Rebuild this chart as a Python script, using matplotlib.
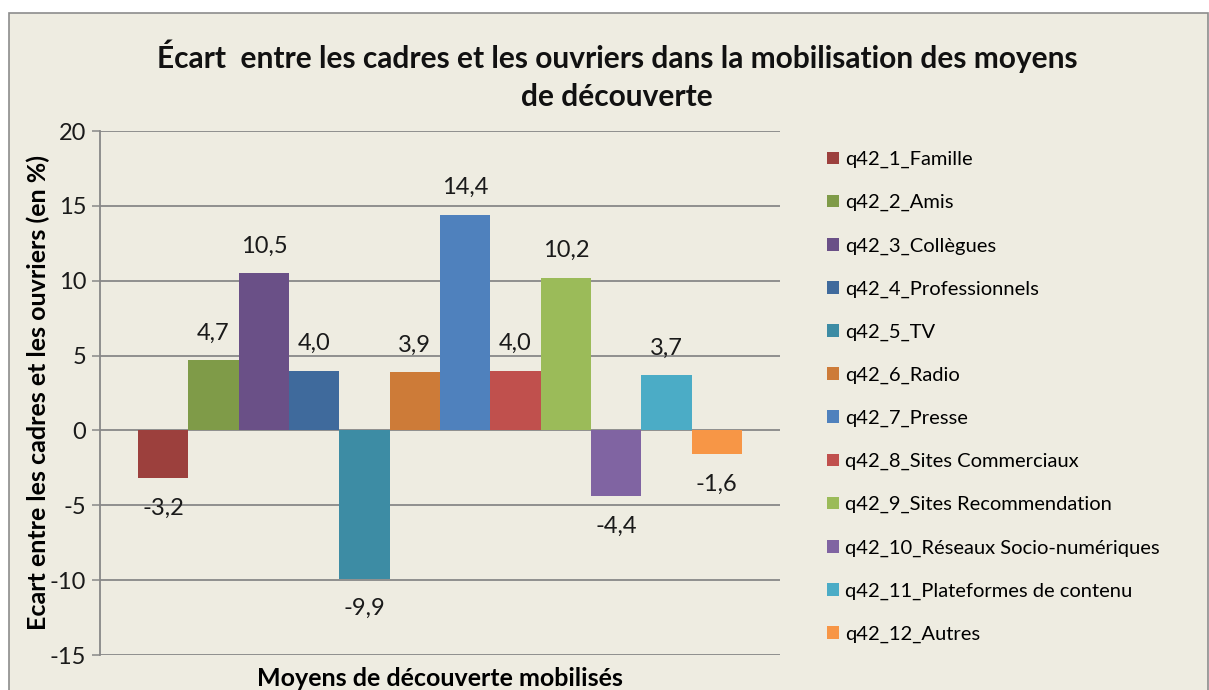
import matplotlib.pyplot as plt
from matplotlib.patches import Rectangle
import numpy as np

plt.rcParams['font.family'] = ['Lato', 'DejaVu Sans']
plt.rcParams['axes.unicode_minus'] = False

series = ["q42_1_Famille", "q42_2_Amis", "q42_3_Collègues", "q42_4_Professionnels",
          "q42_5_TV", "q42_6_Radio", "q42_7_Presse", "q42_8_Sites Commerciaux",
          "q42_9_Sites Recommendation", "q42_10_Réseaux Socio-numériques",
          "q42_11_Plateformes de contenu", "q42_12_Autres"]
values = [-3.2, 4.7, 10.5, 4.0, -9.9, 3.9, 14.4, 4.0, 10.2, -4.4, 3.7, -1.6]
colors = ["#9C403D", "#7F9B48", "#6A5087", "#3F6A9C", "#3D8CA4", "#CD7B38",
          "#4F81BD", "#C0504D", "#9BBB59", "#8064A2", "#4BACC6", "#F79646"]
yticks = [-15, -10, -5, 0, 5, 10, 15, 20]

bg = "#EEECE1"
grid_c = "#888888"

fig = plt.figure(figsize=(12.09, 6.9), dpi=100)
fig.patch.set_facecolor("white")
# chart area
fig.patches.append(Rectangle((9 / 1209, -0.02), 1199 / 1209, (690 - 13) / 690 + 0.02,
                             transform=fig.transFigure, facecolor=bg,
                             edgecolor="#8C8C8C", linewidth=1.2, zorder=-5))

ax = fig.add_axes([100 / 1209, 35 / 690, 680 / 1209, 524 / 690])
ax.set_facecolor("none")
ax.set_zorder(2)

w = 0.888 / len(values)
x = (np.arange(len(values)) - (len(values) - 1) / 2) * w
bars = ax.bar(x, values, width=w, color=colors, label=series, zorder=3)

for xi, v in zip(x, values):
    off = 19.5 if v >= 0 else -21.5
    ax.annotate(f"{v:.1f}".replace(".", ","), (xi, v), xytext=(0, off),
                textcoords="offset points", ha="center", va="center",
                fontsize=17, color="#1a1a1a", zorder=4)

ax.set_xlim(-0.5, 0.5)
ax.set_ylim(-15, 20)
ax.set_yticks(yticks)
ax.set_xticks([])
ax.yaxis.grid(True, color=grid_c, linewidth=1.3, zorder=1)
for s in ["top", "right", "bottom"]:
    ax.spines[s].set_visible(False)
ax.spines["left"].set_color(grid_c)
ax.spines["left"].set_linewidth(1.3)
ax.tick_params(axis="y", direction="out", length=6, width=1.1, color=grid_c,
               labelsize=17, pad=4, labelcolor="#1a1a1a")

ax.set_ylabel("Ecart entre les cadres et les ouvriers (en %)", fontsize=18,
              fontweight="bold", labelpad=0)
ax.set_xlabel("Moyens de découverte mobilisés", fontsize=18, fontweight="bold",
              labelpad=9)

fig.text(617 / 1209, 1 - 75 / 690,
         "Écart  entre les cadres et les ouvriers dans la mobilisation des moyens\nde découverte",
         ha="center", va="center", fontsize=21.5, fontweight="bold",
         linespacing=1.42, color="#111111")

fig.legend(handles=bars, labels=series, loc="upper left",
           bbox_to_anchor=(827 / 1209, 1 - 151 / 690), frameon=False,
           fontsize=14.5, handlelength=0.6, handleheight=0.6, handletextpad=0.3,
           labelspacing=1.285, borderaxespad=0, borderpad=0)

fig.savefig("out.png", dpi=100, facecolor=fig.get_facecolor())
